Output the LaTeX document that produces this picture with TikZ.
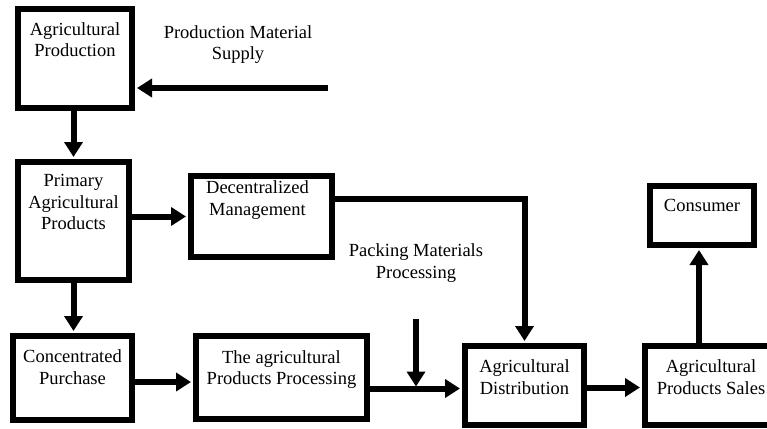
\documentclass[tikz,border=0pt]{standalone}
\usepackage{fontspec}
\setmainfont{Liberation Serif}
\usetikzlibrary{arrows.meta}
\begin{document}
\begin{tikzpicture}[x=1pt,y=-1pt,
  box/.style={draw,line width=6pt,inner sep=0pt},
  txt/.style={anchor=north,align=center,inner sep=0pt,font=\fontsize{18.5}{21.5}\selectfont},
  arr/.style={line width=6pt,-{Triangle[length=15pt,width=18pt]},shorten >=2pt}]
\useasboundingbox (0,0) rectangle (767,428);
\clip (0,0) rectangle (767,428);
\node[box,minimum width=114,minimum height=99] (ap) at (75,58.5) {};
\node[box,minimum width=111,minimum height=118] (pp) at (73.5,221) {};
\node[box,minimum width=141,minimum height=81] (dm) at (261.5,216.5) {};
\node[box,minimum width=119,minimum height=84] (cp) at (72.5,378) {};
\node[box,minimum width=171,minimum height=83] (proc) at (281.5,377.5) {};
\node[box,minimum width=119,minimum height=79] (dist) at (524.5,385.5) {};
\node[box,minimum width=132,minimum height=79] (sales) at (711,385.5) {};
\node[box,minimum width=104,minimum height=59] (cons) at (702,215.5) {};
\node[txt] (ap-t) at ([yshift=-16pt]ap.north) {Agricultural\\Production};
\node[txt] (pp-t) at ([yshift=-15.5pt]pp.north) {Primary\\Agricultural\\Products};
\node[txt] (dm-t) at ([xshift=-4pt,yshift=-7.5pt]dm.north) {Decentralized\\Management};
\node[txt] (cp-t) at ([yshift=-16.5pt]cp.north) {Concentrated\\Purchase};
\node[txt] (proc-t) at ([yshift=-17pt]proc.north) {The agricultural\\Products Processing};
\node[txt] (dist-t) at ([yshift=-16.5pt]dist.north) {Agricultural\\Distribution};
\node[txt] (sales-t) at ([yshift=-16.5pt]sales.north) {Agricultural\\Products Sales};
\node[txt] (cons-t) at ([yshift=-16.5pt]cons.north) {Consumer};
\node[txt] (supply) at (238,25) {Production Material\\Supply};
\node[txt] (packing) at (416,243.5) {Packing Materials\\Processing};
\coordinate (sup) at (328,88);
\coordinate (pk) at (416,319);
\draw[arr] (sup) -- (sup -| ap.east);
\draw[arr] (pp.north |- ap.south) -- (pp.north);
\draw[arr] (pp.east |- dm.west) -- (dm.west);
\draw[arr] (pp.south) -- (pp.south |- cp.north);
\draw[arr] ([yshift=-4pt]cp.east) -- ([yshift=-4pt]cp.east -| proc.west);
\draw[arr] ([yshift=-3pt]dist.west -| proc.east) -- ([yshift=-3pt]dist.west);
\draw[arr] (pk) -- ([yshift=-3pt]pk |- dist.west);
\draw[arr] ([yshift=18pt]dm.east) -| (dist.north);
\draw[arr] ([yshift=-2pt]dist.east) -- ([yshift=-2pt]dist.east -| sales.west);
\draw[arr] ([xshift=-3pt]cons.south |- sales.north) -- ([xshift=-3pt]cons.south);
\end{tikzpicture}
\end{document}
